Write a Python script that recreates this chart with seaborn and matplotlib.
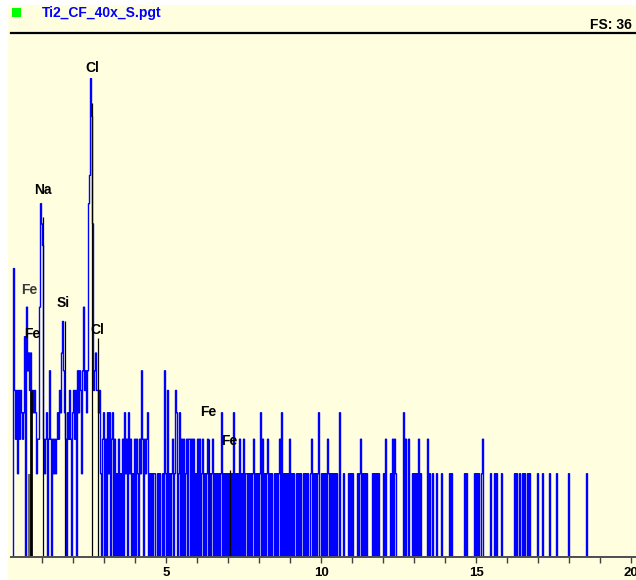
import numpy as np
import pandas as pd
import matplotlib
matplotlib.use("Agg")
import matplotlib.pyplot as plt
from matplotlib.patches import Rectangle
import seaborn as sns

# ---------------- data ----------------
title = "Ti2_CF_40x_S.pgt"
full_scale = "FS: 36"
channels_per_kev = 31  # one channel per 1/31 keV

# counts per channel, one row per keV (0-1, 1-2, ...)
row_00 = [0,0,0,12,4,2,4,1,4,2,4,3,2,3,7,0,9,5,6,4,6,3,4,3,4,3,1,2,2,9,18]
row_01 = [16,14,2,1,2,3,0,2,5,2,0,2,1,2,1,2,3,2,4,3,6,8,5,3,2,0,3,2,4,2,0]
row_02 = [3,4,2,4,0,5,3,5,4,1,5,9,4,5,3,5,18,21,33,28,16,4,5,6,4,4,3,4,1,0,2]
row_03 = [3,0,2,0,3,1,3,0,2,3,0,2,0,1,0,2,0,1,0,2,0,3,1,2,0,3,1,2,0,1,0]
row_04 = [2,0,2,1,0,2,1,5,2,0,2,1,2,3,0,1,0,1,0,1,1,0,0,1,0,1,0,0,1,0,5]
row_05 = [1,0,4,0,1,0,1,2,0,1,4,3,0,1,3,0,2,0,2,0,1,2,0,2,2,0,2,0,2,0,1]
row_06 = [0,2,0,2,0,1,2,0,1,0,1,2,0,1,0,1,2,0,1,0,1,0,1,0,1,3,0,1,0,1,0]
row_07 = [1,0,1,0,1,0,3,0,1,0,1,0,2,0,1,0,2,0,1,1,0,1,0,1,0,1,2,0,1,0,1]
row_08 = [0,1,3,0,2,0,1,0,1,2,0,1,0,1,0,0,1,0,1,0,1,2,0,3,0,1,0,1,0,1,0]
row_09 = [2,0,1,0,1,0,0,1,0,1,0,1,0,0,1,0,1,0,1,0,0,1,2,0,1,0,1,0,1,3,0]
row_10 = [0,1,0,1,0,1,0,2,1,0,1,0,1,0,1,0,1,0,0,3,0,0,0,1,0,0,0,0,1,0,1]
row_11 = [0,1,0,0,0,0,1,0,1,2,0,1,0,1,0,1,0,0,0,0,0,1,0,1,0,1,0,1,0,0,0]
row_12 = [0,1,0,2,0,0,0,0,1,0,2,0,2,1,0,0,0,0,0,0,0,3,0,2,0,0,2,0,0,0,1]
row_13 = [0,1,0,1,0,2,0,1,0,0,0,0,0,0,2,0,1,0,0,1,0,0,0,1,0,0,0,0,1,0,0]
row_14 = [0,0,0,0,0,1,0,1,0,0,0,0,0,0,0,0,0,0,0,0,1,0,1,0,0,0,0,0,0,0,1]
row_15 = [0,1,0,1,0,0,1,2,0,0,0,0,0,0,0,1,0,0,0,1,0,1,0,0,0,0,1,0,0,0,0]
row_16 = [0,0,0,0,0,0,0,0,1,0,1,0,0,1,0,0,1,0,1,0,0,1,0,1,0,0,0,0,0,0,0]
row_17 = [1,0,0,0,0,1,0,0,0,0,0,0,1,0,0,0,0,0,0,1,0,0,0,0,0,0,0,0,0,0,0]
row_18 = [1,0,0,0,0,0,0,0,0,0,0,0,0,0,0,0,0,0,1,0,0,0,0,0,0,0,0,0,0,0,0]
row_19 = [0,0,0,0,0,0,0,0,0,0,0,0,0,0,0,0,0,0,0,0,0,0,0,0,0,0,0,0,0,0,0]
row_20 = [0,0,0,0,0,0]

# element marker lines (keV, marker height in counts)
marker_energy = [0.60, 0.66, 1.041, 1.740, 2.622, 2.815, 6.398, 7.058]
marker_height = [1.0, 4.0, 16.7, 8.0, 29.7, 6.9, 2.0, 1.1]
marker_color = ["#6a6a60", "black", "black", "black", "black", "black", "black", "black"]
marker_width = [3.0, 2.0, 0.9, 0.9, 0.9, 0.9, 0.9, 0.9]

# element labels
label_text = ["Cl", "Na", "Fe", "Fe", "Si", "Cl", "Fe", "Fe"]
label_energy = [2.61, 1.03, 0.58, 0.68, 1.69, 2.77, 6.36, 7.03]
label_count = [34.5, 19.4, 10.3, 7.2, 9.3, 7.45, 3.03, 1.95]
label_color = ["black", "black", "#3a3a3a", "black", "black", "black", "black", "black"]

tick_values = list(range(1, 21))
tick_labels = ["" if v % 5 else str(v) for v in tick_values]

# ---------------- figure ----------------
rows = [row_00, row_01, row_02, row_03, row_04, row_05, row_06, row_07, row_08, row_09,
        row_10, row_11, row_12, row_13, row_14, row_15, row_16, row_17, row_18, row_19, row_20]
counts = [c for r in rows for c in r]
energy = np.arange(len(counts)) / channels_per_kev
df = pd.DataFrame({"energy": energy, "counts": counts})

sns.set_theme(style="white")
plt.rcParams["font.family"] = ["Liberation Sans", "DejaVu Sans"]

W, H = 636, 580
BG = "#ffffe0"
fig = plt.figure(figsize=(W / 100, H / 100), dpi=100)
fig.patch.set_facecolor("white")
fig.patches.append(Rectangle((8 / W, 0), 1, (H - 5) / H, transform=fig.transFigure,
                             facecolor=BG, edgecolor="none", zorder=-5))
fig.patches.append(Rectangle((12 / W, 1 - 17 / H), 9 / W, 9 / H, transform=fig.transFigure,
                             facecolor="#00ff00", edgecolor="none", zorder=2))
fig.text(42 / W, 1 - 13 / H, title, color="#0000ff", fontsize=10, fontweight="bold",
         ha="left", va="center")
fig.text(632 / W, 1 - 25 / H, full_scale, color="black", fontsize=10, fontweight="bold",
         ha="right", va="center")

ax = fig.add_axes([11 / W, 23 / H, 625 / W, 524 / H])
ax.set_facecolor(BG)

sns.lineplot(data=df, x="energy", y="counts", ax=ax, color="#0000ff", linewidth=1.0,
             drawstyle="steps-mid", estimator=None, zorder=2)

ax.set_yscale("function", functions=(lambda y: np.sqrt(np.maximum(y, 0)), lambda y: np.square(y)))
ax.set_ylim(0, 39.6)
ax.set_xlim(0, 625 / channels_per_kev)

for e, h, c, w in zip(marker_energy, marker_height, marker_color, marker_width):
    ax.vlines(e, 0, h, colors=c, linewidth=w, zorder=3)

for t, e, c, col in zip(label_text, label_energy, label_count, label_color):
    ax.text(e, c, t, ha="center", va="center", fontsize=10, fontweight="bold", color=col, zorder=4)

ax.set_xticks(tick_values)
ax.set_xticklabels(tick_labels, fontweight="bold", fontsize=9.5)
ax.set_yticks([])
ax.set_xlabel("")
ax.set_ylabel("")
ax.tick_params(axis="x", direction="out", length=4, width=1, color="#404040",
               labelcolor="black", pad=3, bottom=True)
for s in ["left", "right"]:
    ax.spines[s].set_visible(False)
ax.spines["top"].set_color("black")
ax.spines["top"].set_linewidth(1.6)
ax.spines["bottom"].set_color("#505050")
ax.spines["bottom"].set_linewidth(1.4)
ax.spines["bottom"].set_zorder(5)

fig.savefig("out.png", dpi=100)
